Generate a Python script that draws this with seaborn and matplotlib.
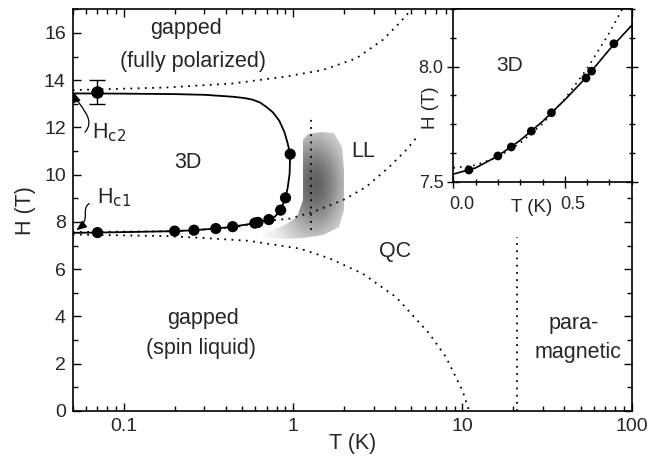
import matplotlib
matplotlib.use("Agg")
import matplotlib.pyplot as plt
import numpy as np
import pandas as pd
import seaborn as sns
from matplotlib.patches import Polygon, FancyArrowPatch
from matplotlib.path import Path
from matplotlib.ticker import MultipleLocator, LogLocator, FuncFormatter, NullFormatter
from matplotlib.transforms import ScaledTranslation

sns.set_style("ticks")
plt.rcParams["font.family"] = ["Liberation Sans", "DejaVu Sans"]
plt.rcParams["mathtext.default"] = "regular"

# measured transition points (T in K, H in T)
T_pts = [0.07, 0.2, 0.26, 0.35, 0.44, 0.595, 0.62, 0.72, 0.845, 0.903, 0.962]
H_pts = [7.55, 7.61, 7.65, 7.72, 7.80, 7.95, 7.98, 8.10, 8.50, 9.02, 10.87]
T_hc2 = [0.07]
H_hc2 = [13.5]
H_hc2_err = [0.5]

# 3D ordered phase boundary (solid)
T_bound = [0.05, 0.1, 0.2, 0.3, 0.44, 0.52, 0.58, 0.64, 0.695, 0.76, 0.83, 0.89,
           0.93, 0.962, 0.955, 0.93, 0.903, 0.845, 0.78, 0.72, 0.62, 0.6, 0.44,
           0.35, 0.26, 0.2, 0.07, 0.05]
H_bound = [13.44, 13.43, 13.41, 13.38, 13.30, 13.24, 13.17, 13.05, 12.87, 12.64,
           12.28, 11.80, 11.32, 10.87, 10.05, 9.45, 9.02, 8.50, 8.22, 8.10, 7.98,
           7.95, 7.80, 7.72, 7.65, 7.61, 7.55, 7.54]

# crossover lines (dotted)
T_upper = [0.05, 0.179, 0.44, 0.9, 1.5, 2.36, 3.38, 4.24, 4.97]
H_upper = [13.58, 13.69, 13.86, 14.15, 14.43, 14.92, 15.7, 16.41, 16.97]
T_rise = [0.05, 0.2, 0.44, 0.73, 0.955, 1.31, 1.97, 2.70, 3.70, 4.65, 5.4]
H_rise = [7.57, 7.61, 7.76, 8.06, 8.14, 8.42, 8.92, 9.48, 10.33, 11.04, 11.6]
T_fall = [0.05, 0.18, 0.3, 0.55, 1.1, 1.64, 2.58, 4.06, 6.38, 8.0, 10.0, 10.97]
H_fall = [7.47, 7.40, 7.32, 7.2, 6.87, 6.46, 5.81, 4.82, 3.27, 2.28, 0.87, 0.0]
T_vll = [1.28, 1.28]
H_vll = [7.65, 12.45]
T_vpm = [21.1, 21.1]
H_vpm = [0.0, 7.37]

# Luttinger-liquid region outline
T_ll = [1.143, 1.218, 1.467, 1.756, 1.95, 2.0, 1.99, 1.88, 1.50, 1.14, 0.891,
        0.652, 0.68, 0.891, 1.049, 1.14, 1.14]
H_ll = [11.46, 11.72, 11.81, 11.75, 11.18, 10.19, 8.50, 7.79, 7.44, 7.30, 7.27,
        7.31, 7.52, 7.86, 8.21, 8.92, 10.61]

# inset data
T_in_fit = [0.0, 0.1, 0.2, 0.3, 0.4, 0.5, 0.6, 0.7, 0.8]
H_in_fit = [7.533, 7.56, 7.612, 7.68, 7.762, 7.856, 7.958, 8.075, 8.18]
T_in_dot = [0.0, 0.1, 0.2, 0.3, 0.4, 0.5, 0.6, 0.7, 0.78]
H_in_dot = [7.56, 7.572, 7.608, 7.668, 7.752, 7.86, 7.992, 8.148, 8.29]
T_in = T_pts[:8]
H_in = [7.551, 7.612, 7.651, 7.720, 7.800, 7.951, 7.981, 8.100]

dot = (0, (1, 3))
fig = plt.figure(figsize=(6.61, 4.57), dpi=100)
ax = fig.add_axes([0.1100, 0.1007, 0.8457, 0.8790])
ax.set_xscale("log")
ax.set_xlim(0.05, 100)
ax.set_ylim(0, 17)

# LL shading
poly = Polygon(np.column_stack([T_ll, H_ll]), closed=True, transform=ax.transData,
               facecolor="none", edgecolor="none")
ax.add_patch(poly)
tg = np.logspace(np.log10(0.6), np.log10(2.1), 160)
hg = np.linspace(7.0, 12.0, 160)
TT, HH = np.meshgrid(tg, hg)
du = (np.log10(TT) - np.log10(1.33)) * 169.7
dv = (HH - 9.6) * 23.6
shade = 1 - 0.62 * np.exp(-((du / 34) ** 2 + (dv / 55) ** 2))
mesh = ax.pcolormesh(TT, HH, shade, cmap="gray", vmin=0, vmax=1,
                     shading="auto", zorder=1, rasterized=True)
mesh.set_clip_path(poly)

for tx, hy in [(T_upper, H_upper), (T_rise, H_rise), (T_fall, H_fall),
               (T_vll, H_vll), (T_vpm, H_vpm)]:
    sns.lineplot(x=tx, y=hy, ax=ax, color="k", lw=1.3, linestyle=dot,
                 sort=False, estimator=None, zorder=2)

sns.lineplot(x=T_bound, y=H_bound, ax=ax, color="k", lw=1.3, sort=False,
             estimator=None, zorder=3)
sns.scatterplot(x=T_pts, y=H_pts, ax=ax, color="k", s=65, edgecolor="none", zorder=4)
ax.errorbar(T_hc2, H_hc2, yerr=H_hc2_err, fmt="o", color="k", ms=8,
            capsize=5.5, elinewidth=1.0, capthick=1.0, zorder=4)

# arrows for Hc1 / Hc2
for verts in ([(0.0591, 11.80), (0.0695, 12.39), (0.0537, 12.90), (0.0505, 13.50)],
              [(0.0626, 8.78), (0.0552, 8.50), (0.065, 8.16), (0.0526, 7.65)]):
    path = Path(verts, [Path.MOVETO, Path.CURVE4, Path.CURVE4, Path.CURVE4])
    arr = FancyArrowPatch(path=path, transform=ax.transData, color="k", lw=0.9,
                          arrowstyle="-|>,head_length=6,head_width=2.5",
                          mutation_scale=1, zorder=5)
    ax.add_patch(arr)

fs = 15.5
ax.text(0.2349, 16.2, "gapped", ha="center", va="center", fontsize=fs)
ax.text(0.256, 14.78, "(fully polarized)", ha="center", va="center", fontsize=fs)
ax.text(0.0647, 11.53, r"H$_{\rm c2}$", ha="left", va="baseline", fontsize=fs)
ax.text(0.0692, 8.78, r"H$_{\rm c1}$", ha="left", va="baseline", fontsize=fs)
ax.text(0.239, 10.53, "3D", ha="center", va="center", fontsize=fs)
ax.text(2.6, 10.97, "LL", ha="center", va="center", fontsize=fs)
ax.text(4.0, 6.74, "QC", ha="center", va="center", fontsize=fs)
ax.text(0.293, 3.92, "gapped", ha="center", va="center", fontsize=fs)
ax.text(0.288, 2.65, "(spin liquid)", ha="center", va="center", fontsize=fs)
ax.text(45.6, 3.71, "para-", ha="center", va="center", fontsize=fs)
ax.text(48.2, 2.49, "magnetic", ha="center", va="center", fontsize=fs)

ax.set_xticks([0.1, 1, 10, 100])
ax.xaxis.set_major_formatter(FuncFormatter(lambda v, _: f"{v:g}"))
ax.xaxis.set_minor_locator(LogLocator(base=10, subs=np.arange(2, 10)))
ax.xaxis.set_minor_formatter(NullFormatter())
ax.yaxis.set_major_locator(MultipleLocator(2))
ax.yaxis.set_minor_locator(MultipleLocator(1))
ax.tick_params(which="both", direction="in", top=True, right=True, width=1.0,
               labelsize=14, pad=5, color="k")
ax.tick_params(which="major", length=6)
ax.tick_params(which="minor", length=3.5)
for s in ax.spines.values():
    s.set_linewidth(1.2)
    s.set_color("k")
ax.set_xlabel("T (K)", fontsize=fs)
ax.xaxis.set_label_coords(0.5, -0.055)
ax.set_ylabel("H (T)", fontsize=fs, labelpad=6)

# inset
axi = fig.add_axes([0.6858, 0.6024, 0.2699, 0.3773])
axi.set_facecolor("white")
axi.set_xlim(0, 0.8)
axi.set_ylim(7.5, 8.25)
sns.lineplot(x=T_in_dot, y=H_in_dot, ax=axi, color="k", lw=1.2, linestyle=dot,
             sort=False, estimator=None)
sns.lineplot(x=T_in_fit, y=H_in_fit, ax=axi, color="k", lw=1.2, sort=False,
             estimator=None)
sns.scatterplot(x=T_in, y=H_in, ax=axi, color="k", s=40, edgecolor="none", zorder=4)
axi.text(0.254, 8.007, "3D", ha="center", va="center", fontsize=15)
axi.set_xticks([0.0, 0.5])
axi.set_xticklabels(["0.0", "0.5"])
axi.set_yticks([7.5, 8.0])
axi.set_yticklabels(["7.5", "8.0"])
axi.xaxis.set_minor_locator(MultipleLocator(0.1))
axi.yaxis.set_minor_locator(MultipleLocator(0.125))
axi.tick_params(which="both", direction="inout", right=True, width=1.0,
                labelsize=13, color="k")
axi.tick_params(which="major", length=8, pad=3)
axi.tick_params(which="minor", length=5)
for lab in axi.get_xticklabels():
    lab.set_transform(lab.get_transform() + ScaledTranslation(0.08, -0.05, fig.dpi_scale_trans))
for s in axi.spines.values():
    s.set_linewidth(1.2)
    s.set_color("k")
axi.set_xlabel("T (K)", fontsize=13.5)
axi.xaxis.set_label_coords(0.44, -0.10)
axi.set_ylabel("H (T)", fontsize=13.5)
axi.yaxis.set_label_coords(-0.08, 0.43)

fig.savefig("out.png", dpi=100)
